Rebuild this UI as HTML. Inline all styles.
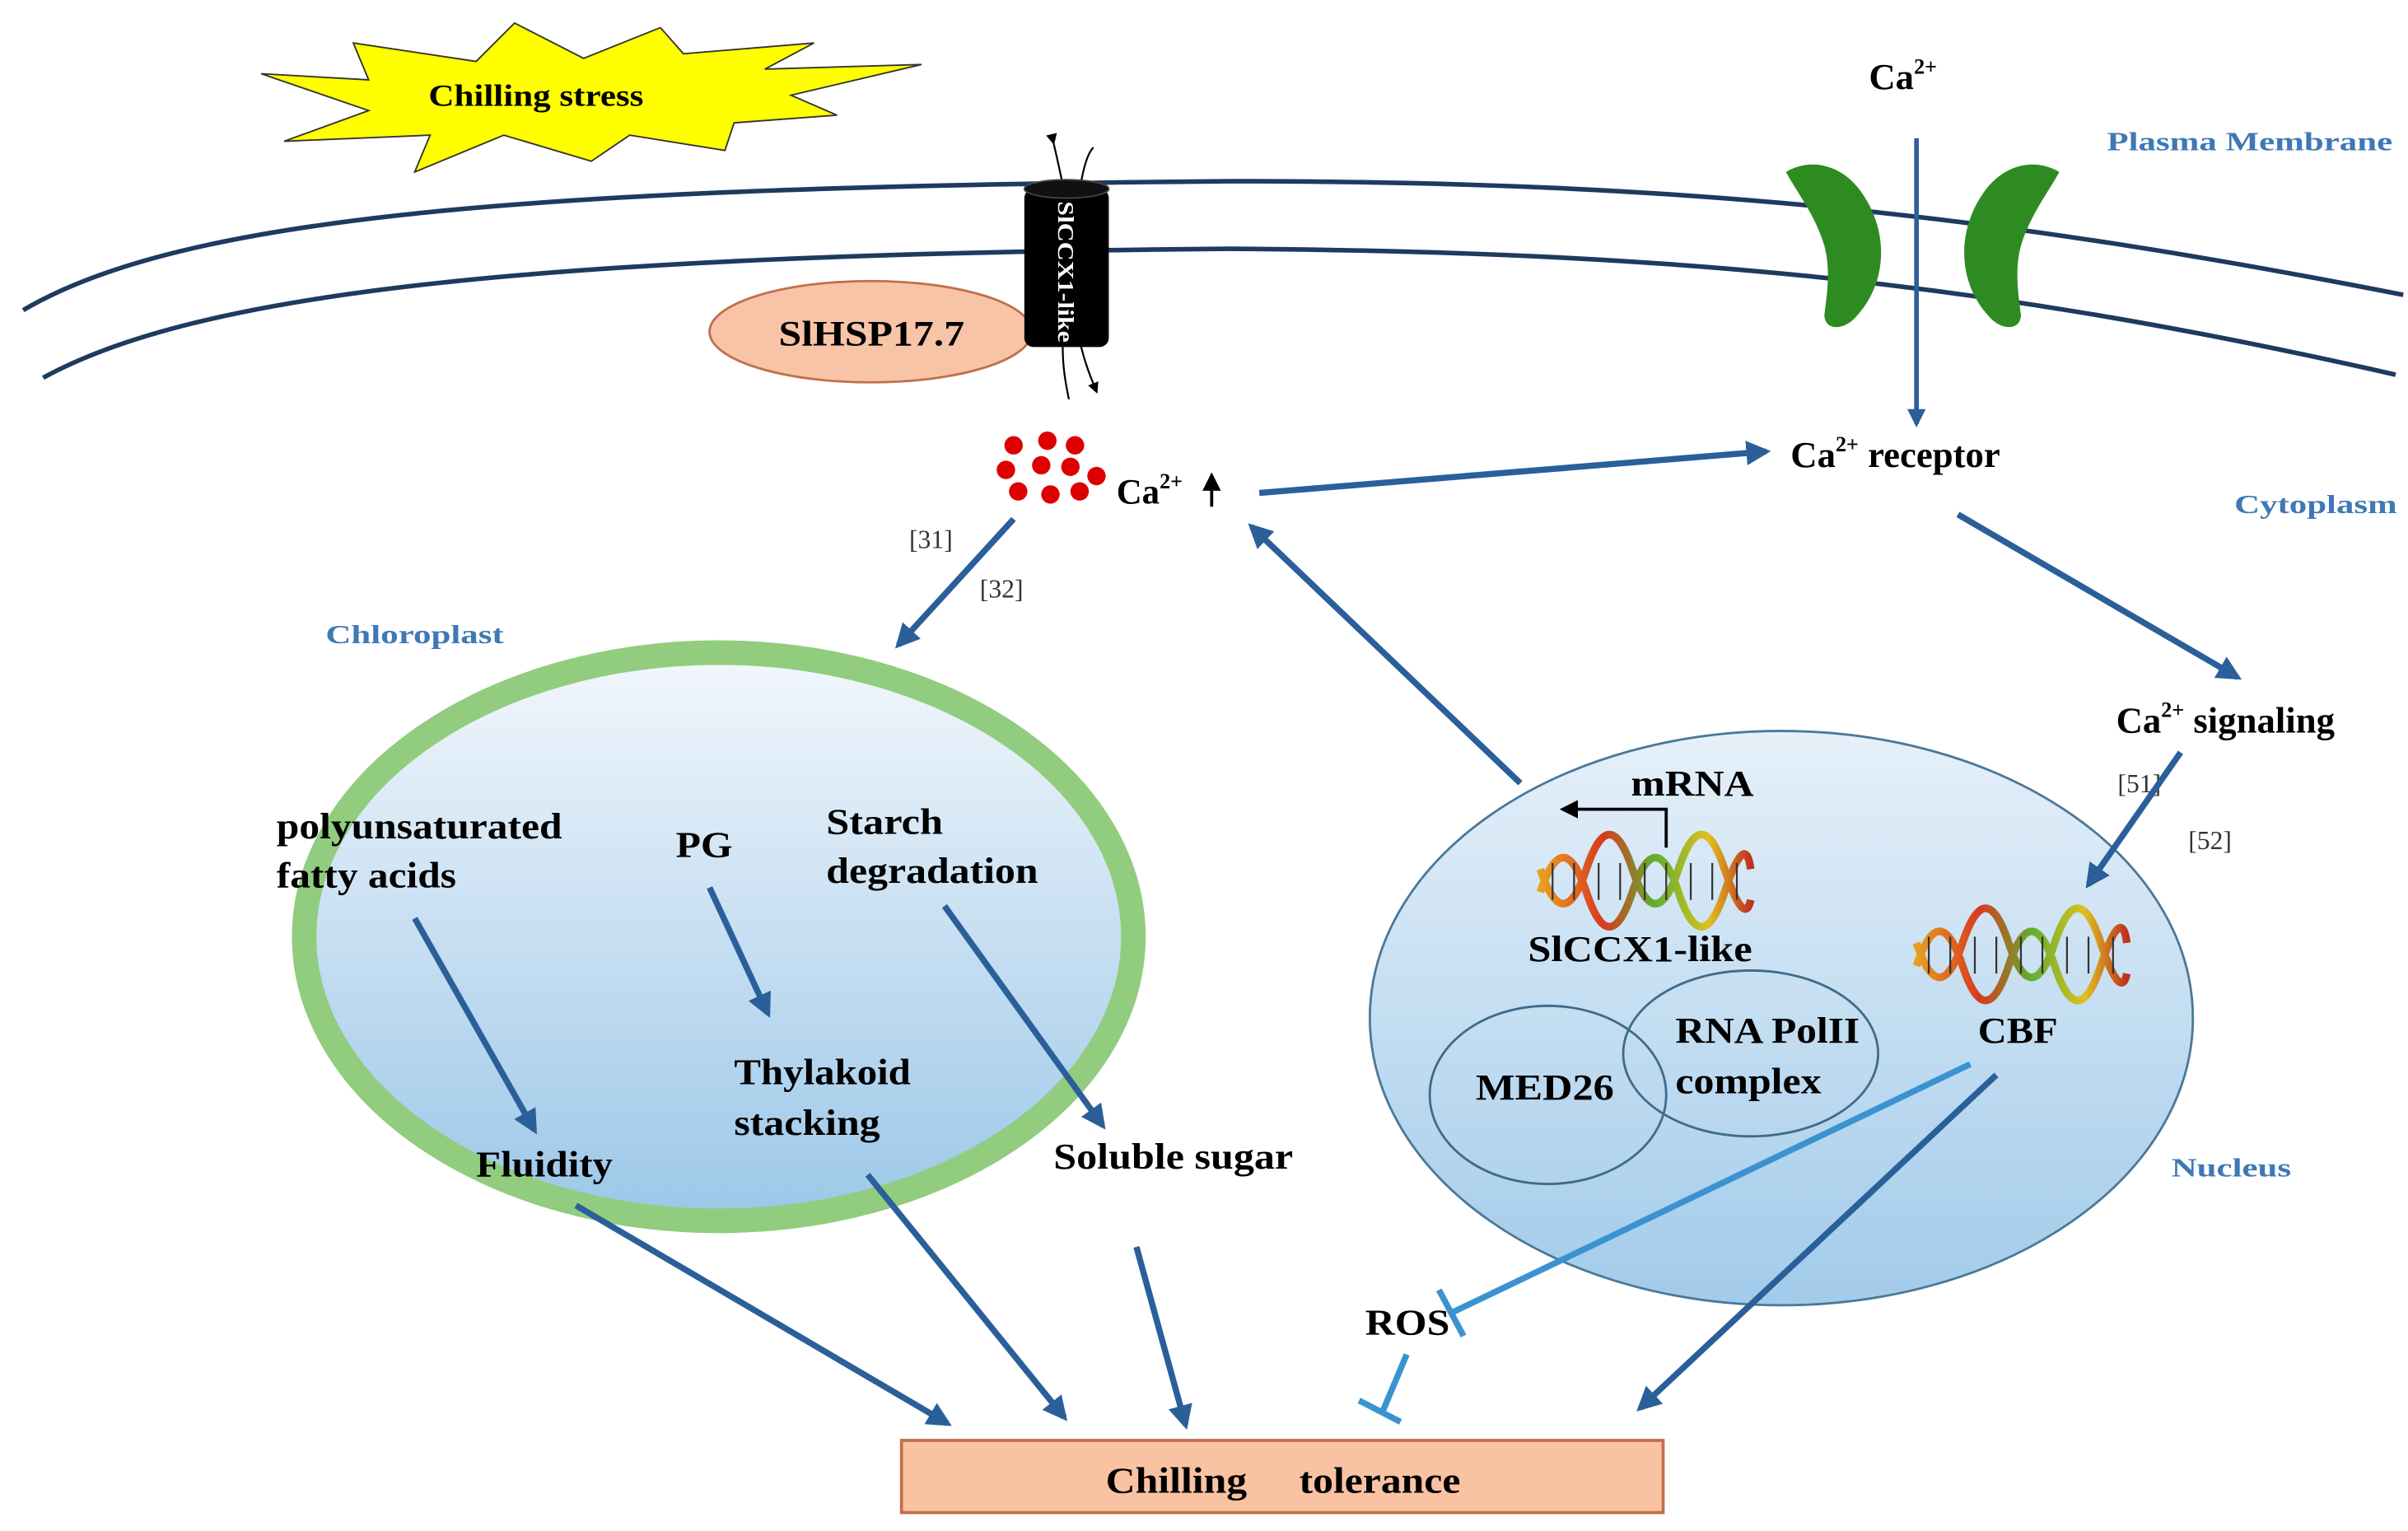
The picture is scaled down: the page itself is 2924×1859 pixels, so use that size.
<!DOCTYPE html>
<html><head><meta charset="utf-8"><style>html,body{margin:0;padding:0;background:#fff}svg{display:block}</style></head><body>
<svg width="2924" height="1859" viewBox="0 0 1568 997" xmlns="http://www.w3.org/2000/svg" font-family="Liberation Serif, serif" font-weight="bold">
<defs>
<linearGradient id="cg" x1="0" y1="0" x2="0" y2="1"><stop offset="0" stop-color="#f2f7fc"/><stop offset="1" stop-color="#9cc7e8"/></linearGradient>
<linearGradient id="ng" x1="0" y1="0" x2="0" y2="1"><stop offset="0" stop-color="#e6f0f9"/><stop offset="1" stop-color="#a2cbea"/></linearGradient>
<linearGradient id="dna" x1="0" y1="0" x2="1" y2="0"><stop offset="0" stop-color="#e8a020"/><stop offset="0.3" stop-color="#d83a20"/><stop offset="0.55" stop-color="#60b030"/><stop offset="0.8" stop-color="#e0c020"/><stop offset="1" stop-color="#c03020"/></linearGradient>
<marker id="ah" viewBox="0 0 10 10" refX="8" refY="5" markerWidth="4" markerHeight="4" orient="auto"><path d="M0,0 L10,5 L0,10 z" fill="#2a5f9a"/></marker>
<marker id="ak" viewBox="0 0 10 10" refX="8" refY="5" markerWidth="6" markerHeight="6" orient="auto"><path d="M0,0 L10,5 L0,10 z" fill="#000"/></marker>
<g id="helix">
<path d="M0,25 C10,-5 20,-5 30,25 S50,55 60,25 S80,-5 90,25 S110,55 120,25 S135,-5 137,10" fill="none" stroke="url(#dna)" stroke-width="5"/>
<path d="M0,10 C10,40 20,40 30,10 S50,-20 60,10 S80,40 90,10 S110,-20 120,10 S135,40 137,30" fill="none" stroke="url(#dna)" stroke-width="5"/>
<g stroke="#333" stroke-width="1.2"><line x1="8" y1="6" x2="8" y2="30"/><line x1="22" y1="6" x2="22" y2="30"/><line x1="38" y1="6" x2="38" y2="30"/><line x1="52" y1="6" x2="52" y2="30"/><line x1="68" y1="6" x2="68" y2="30"/><line x1="82" y1="6" x2="82" y2="30"/><line x1="98" y1="6" x2="98" y2="30"/><line x1="112" y1="6" x2="112" y2="30"/><line x1="128" y1="6" x2="128" y2="30"/></g>
</g>
</defs>

<polygon points="170,48 240,52 230,28 310,40 335,15 380,38 430,18 445,35 530,28 498,45 600,42 515,62 545,75 478,80 472,98 410,88 385,105 328,88 270,112 280,88 185,92 240,72" fill="#ffff00" stroke="#333" stroke-width="1"/>
<text x="279" y="69" font-size="20" textLength="140" lengthAdjust="spacingAndGlyphs">Chilling stress</text>

<path d="M15,202 C120,140 350,122 800,118 C1100,118 1300,140 1565,192" fill="none" stroke="#1f3a5f" stroke-width="3"/>
<path d="M28,246 C130,190 350,166 800,162 C1100,164 1300,185 1560,244" fill="none" stroke="#1f3a5f" stroke-width="3"/>

<ellipse cx="567" cy="216" rx="105" ry="33" fill="#f8c4a8" stroke="#c0704a" stroke-width="1.5"/>
<text x="507" y="225" font-size="23" textLength="121" lengthAdjust="spacingAndGlyphs">SlHSP17.7</text>

<path d="M686,93 C690,110 692,120 694,130" fill="none" stroke="#000" stroke-width="1.2" marker-start="url(#ak)"/>
<path d="M702,130 C705,110 708,100 712,96" fill="none" stroke="#000" stroke-width="1.2"/>
<rect x="667" y="123" width="55" height="103" rx="6" fill="#000"/>
<ellipse cx="694.5" cy="123" rx="27.5" ry="6" fill="#111" stroke="#444"/>
<text transform="translate(689,131) rotate(90)" font-size="15" fill="#fff" textLength="92" lengthAdjust="spacingAndGlyphs">SlCCX1-like</text>
<path d="M692,226 C692,240 694,250 696,260" fill="none" stroke="#000" stroke-width="1.2"/>
<path d="M704,226 C707,238 710,245 714,255" fill="none" stroke="#000" stroke-width="1.2" marker-end="url(#ak)"/>

<path d="M1163,112 C1180,102 1200,108 1212,125 C1230,150 1230,185 1207,208 C1198,216 1188,214 1188,205 C1190,190 1192,175 1188,160 C1182,140 1170,125 1163,112 Z" fill="#2e8b22"/>
<path d="M1341,112 C1324,102 1304,108 1292,125 C1274,150 1274,185 1297,208 C1306,216 1316,214 1316,205 C1314,190 1312,175 1316,160 C1322,140 1334,125 1341,112 Z" fill="#2e8b22"/>
<text x="1217" y="58" font-size="24">Ca<tspan font-size="14" dy="-10">2+</tspan></text>
<line x1="1248" y1="90" x2="1248" y2="276" stroke="#2a5f9a" stroke-width="3" marker-end="url(#ah)"/>
<text x="1372" y="98" font-size="17" fill="#3f78b5" textLength="186" lengthAdjust="spacingAndGlyphs">Plasma Membrane</text>
<text x="1166" y="304" font-size="24">Ca<tspan font-size="14" dy="-10">2+</tspan><tspan dy="10"> receptor</tspan></text>
<text x="1455" y="334" font-size="17" fill="#3f78b5" textLength="106" lengthAdjust="spacingAndGlyphs">Cytoplasm</text>

<g fill="#d00">
<circle cx="660" cy="290" r="6"/><circle cx="682" cy="287" r="6"/><circle cx="700" cy="290" r="6"/>
<circle cx="655" cy="306" r="6"/><circle cx="678" cy="303" r="6"/><circle cx="697" cy="304" r="6"/><circle cx="714" cy="310" r="6"/>
<circle cx="663" cy="320" r="6"/><circle cx="684" cy="322" r="6"/><circle cx="703" cy="320" r="6"/>
</g>
<text x="727" y="328" font-size="23">Ca<tspan font-size="14" dy="-10">2+</tspan></text>
<line x1="789" y1="330" x2="789" y2="310" stroke="#000" stroke-width="2" marker-end="url(#ak)"/>

<line x1="820" y1="321" x2="1150" y2="294" stroke="#2a5f9a" stroke-width="4" marker-end="url(#ah)"/>
<text x="592" y="357" font-size="17" font-weight="normal" fill="#333">[31]</text>
<text x="638" y="389" font-size="17" font-weight="normal" fill="#333">[32]</text>
<line x1="660" y1="338" x2="585" y2="420" stroke="#2a5f9a" stroke-width="4" marker-end="url(#ah)"/>
<text x="212" y="419" font-size="17" fill="#3f78b5" textLength="116" lengthAdjust="spacingAndGlyphs">Chloroplast</text>

<ellipse cx="468" cy="610" rx="270" ry="185" fill="url(#cg)" stroke="#92cc7e" stroke-width="16"/>
<g font-size="24">
<text x="180" y="546" textLength="186" lengthAdjust="spacingAndGlyphs">polyunsaturated</text><text x="180" y="578" textLength="117" lengthAdjust="spacingAndGlyphs">fatty acids</text>
<text x="440" y="558" textLength="37" lengthAdjust="spacingAndGlyphs">PG</text>
<text x="538" y="543" textLength="76" lengthAdjust="spacingAndGlyphs">Starch</text><text x="538" y="575" textLength="138" lengthAdjust="spacingAndGlyphs">degradation</text>
<text x="478" y="706" textLength="115" lengthAdjust="spacingAndGlyphs">Thylakoid</text><text x="478" y="739" textLength="95" lengthAdjust="spacingAndGlyphs">stacking</text>
<text x="310" y="766" textLength="89" lengthAdjust="spacingAndGlyphs">Fluidity</text>
<text x="686" y="761" textLength="156" lengthAdjust="spacingAndGlyphs">Soluble sugar</text>
</g>

<ellipse cx="1160" cy="663" rx="268" ry="187" fill="url(#ng)" stroke="#4a7898" stroke-width="1.5"/>
<text x="1062" y="518" font-size="24" textLength="80" lengthAdjust="spacingAndGlyphs">mRNA</text>
<path d="M1085,552 L1085,527 L1018,527" fill="none" stroke="#000" stroke-width="2" marker-end="url(#ak)"/>
<use href="#helix" x="1003" y="556"/>
<text x="995" y="626" font-size="24" textLength="146" lengthAdjust="spacingAndGlyphs">SlCCX1-like</text>
<ellipse cx="1008" cy="713" rx="77" ry="58" fill="none" stroke="#3f6a8a" stroke-width="1.5"/>
<ellipse cx="1140" cy="686" rx="83" ry="54" fill="none" stroke="#3f6a8a" stroke-width="1.5"/>
<text x="961" y="716" font-size="24" textLength="90" lengthAdjust="spacingAndGlyphs">MED26</text>
<text x="1091" y="679" font-size="24" textLength="120" lengthAdjust="spacingAndGlyphs">RNA PolII</text>
<text x="1091" y="712" font-size="24" textLength="95" lengthAdjust="spacingAndGlyphs">complex</text>
<use href="#helix" x="1248" y="604"/>
<text x="1288" y="679" font-size="24" textLength="52" lengthAdjust="spacingAndGlyphs">CBF</text>
<text x="1378" y="477" font-size="24">Ca<tspan font-size="14" dy="-10">2+</tspan><tspan dy="10"> signaling</tspan></text>
<text x="1379" y="516" font-size="17" font-weight="normal" fill="#333">[51]</text>
<text x="1425" y="553" font-size="17" font-weight="normal" fill="#333">[52]</text>
<text x="1414" y="766" font-size="17" fill="#3f78b5" textLength="78" lengthAdjust="spacingAndGlyphs">Nucleus</text>

<g stroke="#2a5f9a" stroke-width="4" marker-end="url(#ah)">
<line x1="270" y1="598" x2="348" y2="736"/>
<line x1="462" y1="578" x2="500" y2="660"/>
<line x1="615" y1="590" x2="718" y2="733"/>
<line x1="990" y1="510" x2="815" y2="343"/>
<line x1="1275" y1="335" x2="1457" y2="441"/>
<line x1="1420" y1="490" x2="1360" y2="576"/>
<line x1="375" y1="785" x2="617" y2="927"/>
<line x1="565" y1="765" x2="693" y2="923"/>
<line x1="740" y1="812" x2="772" y2="928"/>
</g>

<line x1="1283" y1="693" x2="945" y2="855" stroke="#3a93d0" stroke-width="4"/>
<line x1="937" y1="840" x2="953" y2="870" stroke="#3a93d0" stroke-width="4"/>
<text x="889" y="869" font-size="24" textLength="55" lengthAdjust="spacingAndGlyphs">ROS</text>
<line x1="916" y1="882" x2="900" y2="920" stroke="#3a93d0" stroke-width="4"/>
<line x1="885" y1="912" x2="912" y2="926" stroke="#3a93d0" stroke-width="4"/>
<line x1="1300" y1="700" x2="1068" y2="917" stroke="#2a5f9a" stroke-width="4" marker-end="url(#ah)"/>

<rect x="587" y="938" width="496" height="47" fill="#f9c2a3" stroke="#c0704a" stroke-width="2"/>
<text x="720" y="972" font-size="24" textLength="92" lengthAdjust="spacingAndGlyphs">Chilling</text>
<text x="846" y="972" font-size="24" textLength="105" lengthAdjust="spacingAndGlyphs">tolerance</text>
</svg>
</body></html>
